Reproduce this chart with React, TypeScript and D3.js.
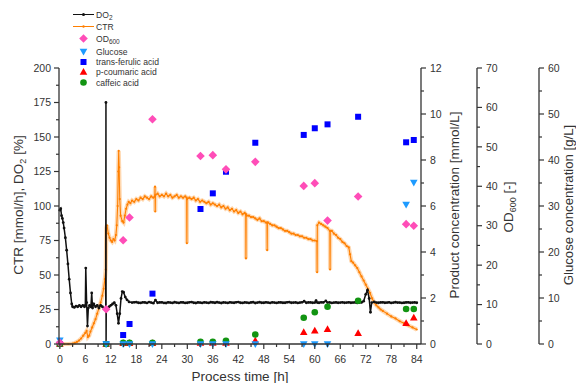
import React from "react";
import * as d3 from "d3";

const W = 576;
const H = 383;

// Online signals: process time [h], value
const do2Data: [number, number][] = [
  [0, 97], [0.2, 98], [0.4, 93], [0.6, 91], [0.8, 88], [1.0, 84], [1.3, 77], [1.6, 68],
  [1.9, 58], [2.2, 47], [2.5, 37], [2.8, 29], [3.0, 27], [3.4, 26.5], [3.8, 27.5], [4.2, 27],
  [4.6, 28], [5.0, 27], [5.4, 28], [5.8, 27], [6.0, 28], [6.1, 55], [6.3, 30], [6.5, 13],
  [6.7, 26], [7.0, 28], [7.3, 27], [7.5, 37], [7.7, 26], [8.0, 29], [8.4, 27], [8.8, 28],
  [9.2, 26], [9.6, 28], [10.0, 27], [10.4, 26], [10.8, 25], [10.85, 175], [10.88, 0], [10.92, 25],
  [11.2, 26], [11.6, 27], [12.0, 28], [12.4, 29], [12.8, 30], [13.2, 28], [13.5, 22], [13.8, 15],
  [14.1, 22], [14.4, 33], [14.7, 38], [15.0, 37.5], [15.4, 34], [15.8, 32], [16.3, 30.5], [17, 30],
  [17.5, 30.2], [18, 30.3], [18.5, 29.9], [19, 29.8], [19.5, 30.2], [20, 30.1], [20.5, 29.8], [21, 30.4],
  [21.5, 30.0], [22, 29.6], [22.5, 31.8], [23, 29.9], [23.5, 30.1], [24, 30.2], [24.5, 29.8], [25, 29.7],
  [25.5, 30.2], [26, 30.0], [26.5, 29.8], [27, 30.3], [27.5, 30.0], [28, 29.8], [28.5, 30.2], [29, 30.1],
  [29.5, 29.8], [30, 29.9], [30.5, 30.2], [31, 30.4], [31.5, 29.9], [32, 29.7], [32.5, 30.1], [33, 30.0],
  [33.5, 29.8], [34, 30.2], [34.5, 30.0], [35, 29.8], [35.5, 30.3], [36, 30.1], [36.5, 29.9], [37, 30.3],
  [37.5, 30.0], [38, 29.7], [38.5, 30.1], [39, 30.0], [39.5, 29.8], [40, 30.2], [40.5, 30.0], [41, 29.9],
  [41.5, 30.2], [42, 30.4], [42.5, 29.9], [43, 29.8], [43.5, 30.1], [44, 30.0], [44.5, 29.8], [45, 30.1],
  [45.5, 30.3], [46, 29.7], [46.5, 30.0], [47, 30.3], [47.5, 29.9], [48, 29.9], [48.5, 30.2], [49, 30.0],
  [49.5, 29.8], [50, 30.2], [50.5, 30.0], [51, 29.8], [51.5, 30.1], [52, 30.1], [52.5, 29.9], [53, 29.9],
  [53.5, 30.2], [54, 30.3], [54.5, 29.9], [55, 30.0], [55.5, 30.1], [56, 29.8], [56.5, 30.0], [57, 30.2],
  [57.5, 31], [58, 29.9], [58.5, 30.1], [59, 30.1], [59.5, 29.9], [60, 30.0], [60.3, 31.5], [60.6, 30.0],
  [61, 29.9], [61.5, 30.2], [62, 30.1], [62.6, 31.2], [63, 30.0], [63.5, 30.1], [64, 29.8], [64.5, 30.0],
  [65, 30.1], [65.5, 29.9], [66, 30.0], [66.5, 30.2], [67, 29.9], [67.5, 30.0], [68, 30.2], [68.5, 29.9],
  [69, 30.0], [69.5, 30.1], [70, 29.8], [70.5, 30.0], [71, 30.1], [71.5, 31], [72, 36], [72.4, 39],
  [72.8, 33], [73.1, 23], [73.4, 30], [74, 30.5], [74.5, 30.0], [75, 29.9], [75.5, 30.1], [76, 30.2],
  [76.5, 29.9], [77, 30.0], [77.5, 30.2], [78, 29.8], [78.5, 30.0], [79, 30.3], [79.5, 30.0], [80, 30.0],
  [80.5, 29.8], [81, 29.9], [81.5, 30.1], [82, 30.2], [82.5, 29.9], [83, 30.0], [83.5, 30.1], [84, 29.9],
];

const ctrData: [number, number][] = [
  [0, 0], [1, 0], [2, 0], [3, 0.3], [3.5, 0.8], [4, 1.5], [4.5, 2.5], [5, 4], [5.5, 6], [6, 8],
  [6.3, 9.5], [6.6, 5], [6.9, 6], [7.2, 9], [7.6, 12], [8, 15], [8.4, 18], [8.8, 22], [9.2, 26],
  [9.6, 30], [10, 35], [10.3, 40], [10.6, 47], [10.8, 54], [10.95, 84], [11.1, 86], [11.4, 80],
  [11.7, 77], [12.0, 75], [12.3, 74], [12.6, 76], [12.9, 75], [13.2, 79], [13.4, 86], [13.6, 100],
  [13.75, 125], [13.85, 140], [13.95, 128], [14.1, 105], [14.3, 93], [14.7, 89], [15.0, 88], [15.3, 93],
  [15.6, 98], [15.9, 101], [16.2, 103], [16.6, 102], [17, 104], [17.5, 103], [18, 105], [18.5, 104],
  [19, 106], [19.5, 105], [20, 107], [20.5, 106], [21, 105], [21.5, 107], [22, 106], [22.35, 107],
  [22.4, 114], [22.45, 96], [22.5, 108], [23, 109], [23.5, 107], [24, 108], [24.5, 107], [25, 109],
  [25.5, 107], [26, 108], [26.5, 106], [27, 107], [27.5, 108], [28, 106], [28.5, 107], [29, 106],
  [29.5, 107], [29.85, 106], [29.9, 73], [29.95, 105], [30.5, 106], [31, 105], [31.5, 106], [32, 104],
  [32.5, 105], [33, 103], [33.5, 104], [34, 103], [34.5, 102], [35, 103], [35.5, 101], [36, 102],
  [36.5, 101], [37, 100], [37.5, 101], [38, 99], [38.5, 100], [39, 98], [39.5, 99], [40, 97],
  [40.5, 98], [41, 96], [41.5, 97], [42, 95], [42.5, 96], [43, 94], [43.5, 95], [43.75, 94],
  [43.8, 62], [43.85, 94], [44, 93], [44.5, 93], [45, 92], [45.5, 92], [46, 91], [46.5, 90],
  [47, 91], [47.5, 89], [48, 89], [48.5, 88], [48.75, 88], [48.8, 68], [48.85, 88], [49, 88],
  [49.5, 87], [50, 86], [50.5, 86], [51, 85], [51.5, 84], [52, 84], [52.5, 83], [53, 82],
  [53.5, 82], [54, 81], [54.5, 80], [55, 80], [55.5, 79], [56, 79], [56.5, 78], [57, 78],
  [57.5, 77], [58, 77], [58.5, 76], [59, 76], [59.5, 75], [60, 75], [60.5, 74.5], [60.55, 52],
  [60.6, 86], [61, 88], [61.5, 87], [62, 86], [62.5, 85], [63, 84], [63.55, 82], [63.6, 54],
  [63.65, 82], [64, 82], [64.5, 80], [65, 79], [65.5, 77], [66, 76], [66.5, 74], [67, 73],
  [67.5, 71], [68, 70], [68.3, 65], [68.6, 60], [69, 59], [69.5, 57], [70, 55], [70.5, 52],
  [71, 49], [71.5, 46], [72, 43], [72.5, 40], [73, 37], [73.5, 33], [74, 30], [74.5, 28],
  [75, 26.5], [75.5, 25], [76, 24], [77, 22], [78, 20], [79, 18.5], [80, 16.5], [81, 15],
  [82, 13.5], [83, 12], [84, 10.5],
];

// Offline samples
const sampleTimes = [0, 10.9, 14.9, 16.4, 21.8, 33.1, 36, 39.1, 46, 57.4, 60, 63, 70.2, 81.5, 83.3];
const od600 = [0.3, 8.8, 26.3, 32.1, 57, 47.7, 47.9, 44.3, 46.2, 40.1, 40.8, 31.3, 37.4, 30.4, 30];
const glucose: (number | null)[] = [0.8, 0, 0, 0, 0, 0, 0, 0, 0, 0, 0, 0, null, 30.3, 35.1];
const transFerulic = [0, 0, 0.39, 0.87, 2.19, 5.87, 6.55, 7.49, 8.75, 9.09, 9.38, 9.55, 9.88, 8.77, 8.87];
const pCoumaric = [0, 0, 0.03, 0.03, 0.03, 0.05, 0.05, 0.05, 0.14, 0.51, 0.58, 0.64, 0.47, 0.9, 1.14];
const caffeic = [0, 0, 0.05, 0.05, 0.05, 0.1, 0.1, 0.14, 0.41, 1.14, 1.38, 1.62, 1.88, 1.52, 1.52];

// Axis ticks
const xTicks = [0, 6, 12, 18, 24, 30, 36, 42, 48, 54, 60, 66, 72, 78, 84];
const leftTicks = [0, 25, 50, 75, 100, 125, 150, 175, 200];
const productTicks = [0, 2, 4, 6, 8, 10, 12];
const odTicks = [0, 10, 20, 30, 40, 50, 60, 70];
const glucoseTicks = [0, 10, 20, 30, 40, 50, 60];

const FONT = "'Liberation Sans', Arial, sans-serif";
const AXIS = "#333";
const C_DO2 = "#111";
const C_CTR = "#ff7f00";
const C_OD = "#ff4db8";
const C_GLC = "#1e9bff";
const C_TFA = "#0000ff";
const C_PCA = "#ff0000";
const C_CA = "#129412";

const Y0 = 344;
const Y1 = 68;

const x = d3.scaleLinear().domain([-0.2, 85]).range([59, 421]);
const yLeft = d3.scaleLinear().domain([0, 200]).range([Y0, Y1]);
const yProd = d3.scaleLinear().domain([0, 12]).range([Y0, Y1]);
const yOD = d3.scaleLinear().domain([0, 70]).range([Y0, Y1]);
const yGlc = d3.scaleLinear().domain([0, 60]).range([Y0, Y1]);

const line = (sy: d3.ScaleLinear<number, number>) =>
  d3.line<[number, number]>().x((d) => x(d[0])).y((d) => sy(d[1]));

type Shape = "square" | "diamond" | "tri" | "triDown" | "circle";

function Marker({ shape, cx, cy, color }: { shape: Shape; cx: number; cy: number; color: string }) {
  if (shape === "circle") return <circle cx={cx} cy={cy} r={3.3} fill={color} />;
  if (shape === "square") return <rect x={cx - 3} y={cy - 3} width={6} height={6} fill={color} />;
  if (shape === "diamond")
    return <path d={`M${cx},${cy - 4.3}L${cx + 4.3},${cy}L${cx},${cy + 4.3}L${cx - 4.3},${cy}Z`} fill={color} />;
  if (shape === "tri")
    return <path d={`M${cx},${cy - 4}L${cx + 3.8},${cy + 2.8}L${cx - 3.8},${cy + 2.8}Z`} fill={color} />;
  return <path d={`M${cx},${cy + 4}L${cx + 3.8},${cy - 2.8}L${cx - 3.8},${cy - 2.8}Z`} fill={color} />;
}

function Scatter({
  values,
  sy,
  shape,
  color,
}: {
  values: (number | null)[];
  sy: d3.ScaleLinear<number, number>;
  shape: Shape;
  color: string;
}) {
  return (
    <g>
      {values.map((v, i) =>
        v === null ? null : <Marker key={i} shape={shape} cx={x(sampleTimes[i])} cy={sy(v)} color={color} />
      )}
    </g>
  );
}

function RightAxis({
  x0,
  sy,
  ticks,
  minorStep,
}: {
  x0: number;
  sy: d3.ScaleLinear<number, number>;
  ticks: number[];
  minorStep: number;
}) {
  const [lo, hi] = sy.domain();
  const minor = d3.range(lo + minorStep, hi, minorStep * 2);
  return (
    <g>
      <line x1={x0} x2={x0} y1={sy(lo)} y2={sy(hi)} stroke={AXIS} strokeWidth={1.3} />
      {ticks.map((t) => (
        <g key={t}>
          <line x1={x0} x2={x0 + 5} y1={sy(t)} y2={sy(t)} stroke={AXIS} strokeWidth={1.2} />
          <text x={x0 + 9} y={sy(t)} dy="0.35em" fontSize={10.5} fill={AXIS} fontFamily={FONT}>
            {t}
          </text>
        </g>
      ))}
      {minor.map((t) => (
        <line key={"m" + t} x1={x0} x2={x0 + 3} y1={sy(t)} y2={sy(t)} stroke={AXIS} strokeWidth={1.2} />
      ))}
    </g>
  );
}

const legendRows: { label: React.ReactNode; kind: string; color: string; y: number }[] = [
  { label: <>DO<tspan fontSize={6.5} dy={2.5}>2</tspan></>, kind: "lineDot", color: C_DO2, y: 14.5 },
  { label: "CTR", kind: "lineCtr", color: C_CTR, y: 26.5 },
  { label: <>OD<tspan fontSize={6.5} dy={2.5}>600</tspan></>, kind: "diamond", color: C_OD, y: 38.5 },
  { label: "Glucose", kind: "triDown", color: C_GLC, y: 51.5 },
  { label: "trans-ferulic acid", kind: "square", color: C_TFA, y: 62 },
  { label: "p-coumaric acid", kind: "tri", color: C_PCA, y: 72 },
  { label: "caffeic acid", kind: "circle", color: C_CA, y: 82.5 },
];

export default function App() {
  const xMinor = d3.range(3, 85, 6);
  const leftMinor = d3.range(12.5, 200, 25);
  const ctrPath = line(yLeft)(ctrData) || "";
  return (
    <svg width={W} height={H} style={{ position: "absolute", left: 0, top: 0, background: "#fff" }}>
      {/* Online signals */}
      <path d={ctrPath} fill="none" stroke="#ffb870" strokeOpacity={0.55} strokeWidth={4.2} />
      <path d={ctrPath} fill="none" stroke={C_CTR} strokeWidth={1.1} />
      {ctrData.map((d, i) => (
        <circle key={"c" + i} cx={x(d[0])} cy={yLeft(d[1])} r={1.1} fill={C_CTR} />
      ))}
      <path d={line(yLeft)(do2Data) || ""} fill="none" stroke={C_DO2} strokeWidth={1.5} />
      {do2Data.map((d, i) => (
        <circle key={"d" + i} cx={x(d[0])} cy={yLeft(d[1])} r={1.4} fill={C_DO2} />
      ))}

      {/* Offline samples */}
      <Scatter values={transFerulic} sy={yProd} shape="square" color={C_TFA} />
      <Scatter values={pCoumaric} sy={yProd} shape="tri" color={C_PCA} />
      <Scatter values={caffeic} sy={yProd} shape="circle" color={C_CA} />
      <Scatter values={glucose} sy={yGlc} shape="triDown" color={C_GLC} />
      <Scatter values={od600} sy={yOD} shape="diamond" color={C_OD} />

      {/* Bottom axis */}
      <line x1={59} x2={421} y1={Y0} y2={Y0} stroke={AXIS} strokeWidth={1.3} />
      {xTicks.map((t) => (
        <g key={t}>
          <line x1={x(t)} x2={x(t)} y1={Y0} y2={Y0 + 5} stroke={AXIS} strokeWidth={1.2} />
          <text x={x(t)} y={Y0 + 19} textAnchor="middle" fontSize={10.5} fill={AXIS} fontFamily={FONT}>
            {t}
          </text>
        </g>
      ))}
      {xMinor.map((t) => (
        <line key={"xm" + t} x1={x(t)} x2={x(t)} y1={Y0} y2={Y0 + 3} stroke={AXIS} strokeWidth={1.2} />
      ))}
      <text x={240} y={381} textAnchor="middle" fontSize={13.5} fill={AXIS} fontFamily={FONT}>
        Process time [h]
      </text>

      {/* Left axis */}
      <line x1={59} x2={59} y1={Y0} y2={Y1} stroke={AXIS} strokeWidth={1.3} />
      {leftTicks.map((t) => (
        <g key={t}>
          <line x1={54} x2={59} y1={yLeft(t)} y2={yLeft(t)} stroke={AXIS} strokeWidth={1.2} />
          <text x={51} y={yLeft(t)} dy="0.35em" textAnchor="end" fontSize={10.5} fill={AXIS} fontFamily={FONT}>
            {t}
          </text>
        </g>
      ))}
      {leftMinor.map((t) => (
        <line key={"lm" + t} x1={56} x2={59} y1={yLeft(t)} y2={yLeft(t)} stroke={AXIS} strokeWidth={1.2} />
      ))}
      <text
        transform="translate(23,205) rotate(-90)"
        textAnchor="middle"
        fontSize={13.5}
        fill={AXIS}
        fontFamily={FONT}
      >
        CTR [mmol/h], DO<tspan fontSize={9} dy={3}>2</tspan>
        <tspan dy={-3}> [%]</tspan>
      </text>

      {/* Right axes */}
      <RightAxis x0={421} sy={yProd} ticks={productTicks} minorStep={1} />
      <text transform="translate(459,205) rotate(-90)" textAnchor="middle" fontSize={13.5} fill={AXIS} fontFamily={FONT}>
        Product concentration [mmol/L]
      </text>
      <RightAxis x0={477} sy={yOD} ticks={odTicks} minorStep={5} />
      <text transform="translate(513,207) rotate(-90)" textAnchor="middle" fontSize={13.5} fill={AXIS} fontFamily={FONT}>
        OD<tspan fontSize={9} dy={3}>600</tspan>
        <tspan dy={-3}> [-]</tspan>
      </text>
      <RightAxis x0={539} sy={yGlc} ticks={glucoseTicks} minorStep={5} />
      <text transform="translate(572.5,205) rotate(-90)" textAnchor="middle" fontSize={13.2} fill={AXIS} fontFamily={FONT}>
        Glucose concentration [g/L]
      </text>

      {/* Legend */}
      {legendRows.map((r, i) => (
        <g key={i}>
          {r.kind === "lineDot" && (
            <>
              <line x1={73} x2={94} y1={r.y} y2={r.y} stroke={r.color} strokeWidth={1} />
              <circle cx={83.5} cy={r.y} r={1.5} fill={r.color} />
            </>
          )}
          {r.kind === "lineCtr" && (
            <>
              <line x1={73} x2={94} y1={r.y} y2={r.y} stroke={r.color} strokeWidth={1} />
              <circle cx={83.5} cy={r.y} r={1.2} fill={r.color} />
            </>
          )}
          {r.kind !== "lineDot" && r.kind !== "lineCtr" && (
            <Marker shape={r.kind as Shape} cx={83.5} cy={r.y} color={r.color} />
          )}
          <text x={96} y={r.y} dy="0.35em" fontSize={8.6} fill={AXIS} fontFamily={FONT}>
            {r.label}
          </text>
        </g>
      ))}
    </svg>
  );
}
